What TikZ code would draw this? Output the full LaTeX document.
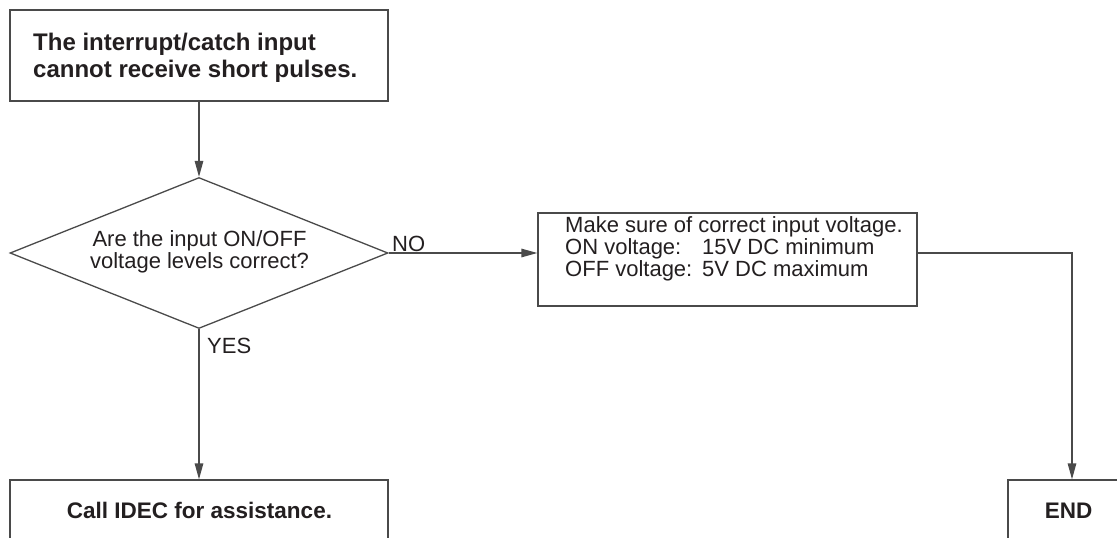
\documentclass[tikz,border=0pt]{standalone}
\usepackage{fontspec}
\setmainfont{Liberation Sans}
\usetikzlibrary{arrows.meta,shapes.geometric}
\definecolor{linegray}{HTML}{4A4A4A}
\definecolor{txt}{HTML}{231F20}
\begin{document}
\begin{tikzpicture}[x=1pt,y=-1pt,
  box/.style={draw=linegray, line width=1.3pt, rectangle, inner sep=0pt},
  dia/.style={draw=linegray, line width=1.3pt, diamond, inner sep=0pt, aspect=2.5},
  conn/.style={draw=linegray, line width=1.3pt},
  arr/.style={conn, -{Triangle[length=16pt,width=8.5pt]}},
  boldtxt/.style={text=txt, font=\fontsize{24}{27}\selectfont\bfseries, inner sep=0pt},
  boldtxtb/.style={text=txt, font=\fontsize{22.5}{25}\selectfont\bfseries, inner sep=0pt},
  regtxt/.style={text=txt, font=\fontsize{22}{22}\selectfont, inner sep=0pt}]
\useasboundingbox (0,0) rectangle (1117,538);
\clip (0,0) rectangle (1117,538);
\fill[white] (0,0) rectangle (1117,538);

% shapes
\node[box, minimum width=378pt, minimum height=91pt] (start) at (199,55.5) {};
\node[dia, minimum width=378pt, minimum height=151pt] (q) at (199,253) {};
\node[box, minimum width=379pt, minimum height=93pt] (fix) at (727.5,259.5) {};
\node[box, minimum width=378pt, minimum height=100pt] (call) at (199,530) {};
\node[box, minimum width=128pt, minimum height=100pt] (end) at (1072,530) {};

% texts (base anchor = baseline of the last line)
\node[boldtxt, anchor=base west, align=left] (t1) at (33,77) {The interrupt/catch input\\cannot receive short pulses.};
\node[regtxt, anchor=base, align=center] (t2) at (199.5,268) {Are the input ON/OFF\\voltage levels correct?};
\node[regtxt, anchor=base west, align=left] (t3) at (565,276) {Make sure of correct input voltage.\\
\makebox[137pt][l]{ON voltage:}15V DC minimum\\
\makebox[137pt][l]{OFF voltage:}5V DC maximum};
\node[boldtxtb, anchor=base] (t4) at (199.5,518) {Call IDEC for assistance.};
\node[boldtxtb, anchor=base] (t5) at (1068.5,518) {END};
\node[regtxt, anchor=base west] (no) at (392,251) {NO};
\node[regtxt, anchor=base west] (yes) at (207,353) {YES};

% connectors
\draw[arr] (start.south) -- (q.north);
\draw[arr] (q.east) -- (fix.west |- q.east);
\draw[arr] (q.south) -- (call.north);
\draw[arr] (fix.east |- q.east) -| (end.north);
\end{tikzpicture}
\end{document}
